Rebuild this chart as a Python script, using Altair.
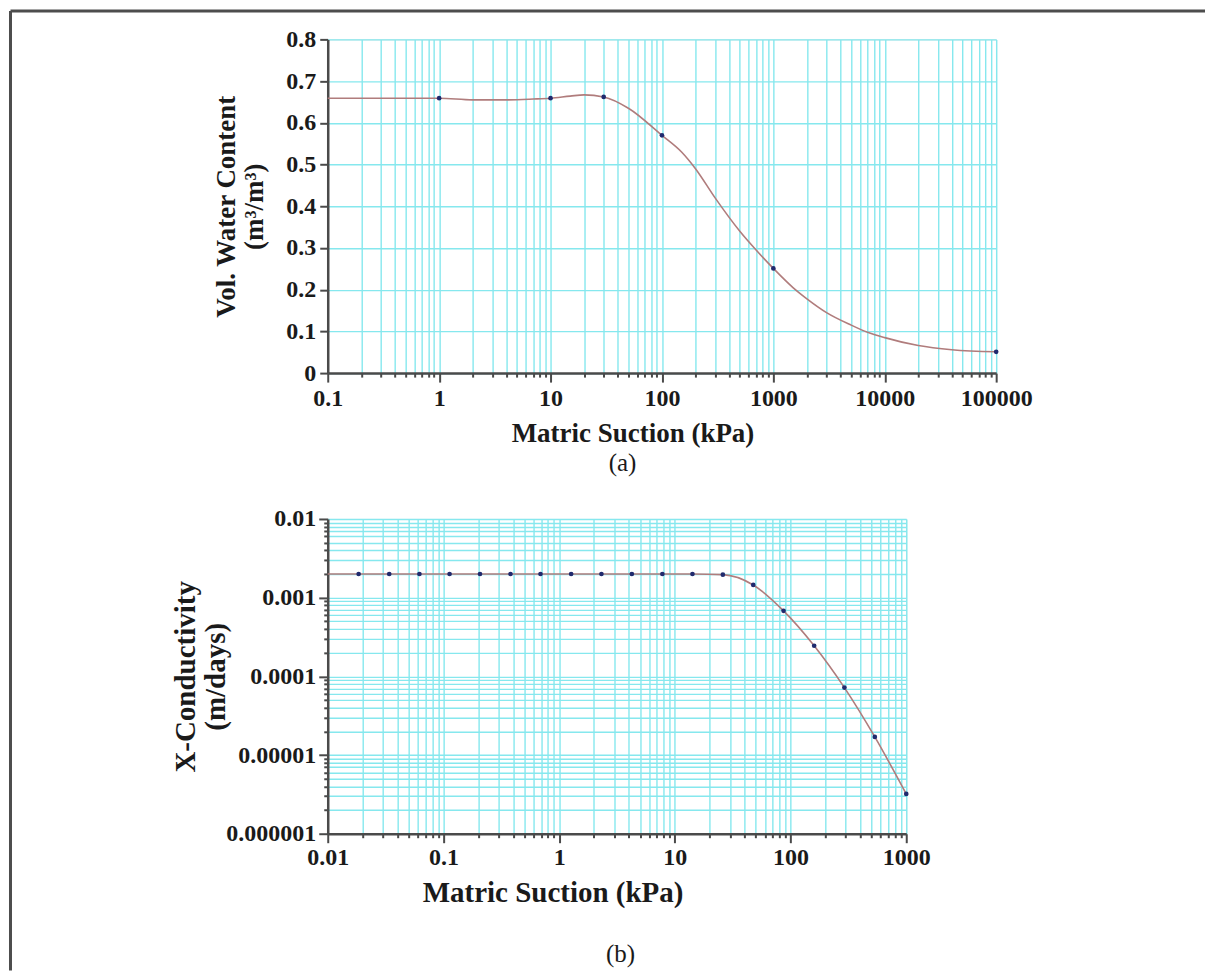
import altair as alt
import pandas as pd

# ---------------- data: panel (a) soil-water characteristic curve ----------------
a_pts_x = [1, 10, 30, 100, 1000, 100000]
a_pts_y = [0.659, 0.659, 0.662, 0.570, 0.251, 0.051]
a_line_x = [0.1, 0.5, 1, 2, 4, 7, 10, 15, 20, 30, 50, 100, 150, 200, 300, 500, 700,
            1000, 1500, 2000, 3000, 5000, 7000, 10000, 20000, 40000, 100000]
a_line_y = [0.659, 0.659, 0.659, 0.655, 0.655, 0.657, 0.659, 0.664, 0.667, 0.662,
            0.635, 0.570, 0.530, 0.490, 0.420, 0.340, 0.295, 0.251, 0.205, 0.178,
            0.145, 0.115, 0.098, 0.085, 0.066, 0.056, 0.051]
a_x_decades = [0.1, 1, 10, 100, 1000, 10000, 100000]
a_y_ticks = [0, 0.1, 0.2, 0.3, 0.4, 0.5, 0.6, 0.7, 0.8]

# ---------------- data: panel (b) hydraulic conductivity function ----------------
b_pts_x = [0.0185, 0.034, 0.062, 0.113, 0.207, 0.38, 0.69, 1.27, 2.32, 4.25,
           7.8, 14.2, 26, 47.6, 87, 160, 292, 535, 1000]
b_pts_y = [0.002, 0.002, 0.002, 0.002, 0.002, 0.002, 0.002, 0.002, 0.002, 0.002,
           0.002, 0.002, 0.00196, 0.00145, 0.00068, 0.000245, 0.000072,
           0.000017, 0.0000032]
b_line_x = [0.01] + b_pts_x
b_line_y = [0.002] + b_pts_y
b_x_decades = [0.01, 0.1, 1, 10, 100, 1000]
b_y_decades = [0.000001, 0.00001, 0.0001, 0.001, 0.01]


def minor(decades):
    vals = []
    for d in decades[:-1]:
        for k in range(1, 10):
            vals.append(k * d)
    vals.append(decades[-1])
    return vals


SERIF = "Liberation Serif"
CYAN = "#86e8ee"
AXC = "#4a4a4a"
TXT = "#1a1a1a"
LINEC = "#b07c7c"
PTC = "#1f2a6e"
DEC = "abs(log(datum.value)/LN10 - round(log(datum.value)/LN10)) < 0.001"


def log_axis(values, orient, **extra):
    kw = dict(
        values=values,
        format=".6~f",
        labelExpr=f"({DEC}) ? datum.label : ''",
        grid=True,
        gridColor=CYAN,
        gridWidth=1.4,
        domainColor=AXC,
        domainWidth=2.5,
        tickColor=AXC,
        tickWidth=2,
        tickSize={"condition": {"test": DEC, "value": 9}, "value": 4},
        labelFont=SERIF,
        labelFontSize=24,
        labelFontWeight="bold",
        labelColor=TXT,
        labelOverlap=False,
        labelFlush=False,
        labelBound=False,
        titleFont=SERIF,
        titleFontWeight="bold",
        titleColor=TXT,
        orient=orient,
    )
    kw.update(extra)
    return alt.Axis(**kw)


def caption(text, px, py):
    return alt.Chart(pd.DataFrame({"c": [0]})).mark_text(
        font=SERIF, fontSize=25, fontWeight="normal", color=TXT,
        align="center", baseline="middle",
    ).encode(x=alt.value(px), y=alt.value(py), text=alt.value(text))


# ---------------- panel (a) ----------------
W_A, H_A = 669, 334
df_a_line = pd.DataFrame({"x": a_line_x, "y": a_line_y})
df_a_pts = pd.DataFrame({"x": a_pts_x, "y": a_pts_y})

xa_axis = log_axis(minor(a_x_decades), "bottom", title="Matric Suction (kPa)",
                   titleX=305, titleFontSize=27, titlePadding=10, labelPadding=4)
xa_scale = alt.Scale(type="log", domain=[0.1, 100000], nice=False)
ya_axis = alt.Axis(
    values=a_y_ticks, format=".1~f", grid=True, gridColor=CYAN, gridWidth=1.4,
    domainColor=AXC, domainWidth=2.5, tickColor=AXC, tickWidth=2, tickSize=8,
    labelFont=SERIF, labelFontSize=24, labelFontWeight="bold", labelColor=TXT,
    labelPadding=4,
    title=["Vol. Water Content", "(m³/m³)"], titleFont=SERIF, titleFontSize=27,
    titleFontWeight="bold", titleColor=TXT, titleLineHeight=28,
    titleX=-87, titleBaseline="bottom",
)
ya_scale = alt.Scale(domain=[0, 0.8], nice=False)

line_a = alt.Chart(df_a_line).mark_line(
    color=LINEC, strokeWidth=1.6, interpolate="monotone"
).encode(
    x=alt.X("x:Q", scale=xa_scale, axis=xa_axis),
    y=alt.Y("y:Q", scale=ya_scale, axis=ya_axis),
)
pts_a = alt.Chart(df_a_pts).mark_circle(color=PTC, size=22, opacity=1).encode(
    x=alt.X("x:Q", scale=xa_scale), y=alt.Y("y:Q", scale=ya_scale)
)
frame_df = pd.DataFrame({"f": [0]})
frame_v = alt.Chart(frame_df).mark_rule(color="#4d4d4d", strokeWidth=3).encode(
    x=alt.value(-317.5), y=alt.value(-28.5), y2=alt.value(932)
)
frame_h = alt.Chart(frame_df).mark_rule(color="#4d4d4d", strokeWidth=3).encode(
    x=alt.value(-317.5), x2=alt.value(878), y=alt.value(-28.5)
)

panel_a = alt.layer(
    line_a, pts_a, frame_v, frame_h, caption("(a)", 295, 424)
).properties(width=W_A, height=H_A)

# ---------------- panel (b) ----------------
W_B, H_B = 579, 315
df_b_line = pd.DataFrame({"x": b_line_x, "y": b_line_y})
df_b_pts = pd.DataFrame({"x": b_pts_x, "y": b_pts_y})

xb_axis = log_axis(minor(b_x_decades), "bottom", title="Matric Suction (kPa)",
                   titleX=225, titleFontSize=29, titlePadding=9, labelPadding=3)
xb_scale = alt.Scale(type="log", domain=[0.01, 1000], nice=False)
yb_axis = log_axis(minor(b_y_decades), "left", title=["X-Conductivity", "(m/days)"],
                   titleFontSize=29, titleLineHeight=30, titleX=-127,
                   titleBaseline="bottom", labelPadding=3)
yb_scale = alt.Scale(type="log", domain=[0.000001, 0.01], nice=False)

line_b = alt.Chart(df_b_line).mark_line(
    color=LINEC, strokeWidth=1.6, interpolate="monotone"
).encode(
    x=alt.X("x:Q", scale=xb_scale, axis=xb_axis),
    y=alt.Y("y:Q", scale=yb_scale, axis=yb_axis),
)
pts_b = alt.Chart(df_b_pts).mark_circle(color=PTC, size=22, opacity=1).encode(
    x=alt.X("x:Q", scale=xb_scale), y=alt.Y("y:Q", scale=yb_scale)
)
panel_b = alt.layer(line_b, pts_b, caption("(b)", 293, 435)).properties(
    width=W_B, height=H_B
)

chart = alt.vconcat(panel_a, panel_b, spacing=146, bounds="flush").properties(
    padding={"left": 0, "top": 0, "right": 0, "bottom": 0}
).configure_view(stroke=None).configure(background="white")

chart.save("out.html", embed_options={"renderer": "svg", "actions": False})
